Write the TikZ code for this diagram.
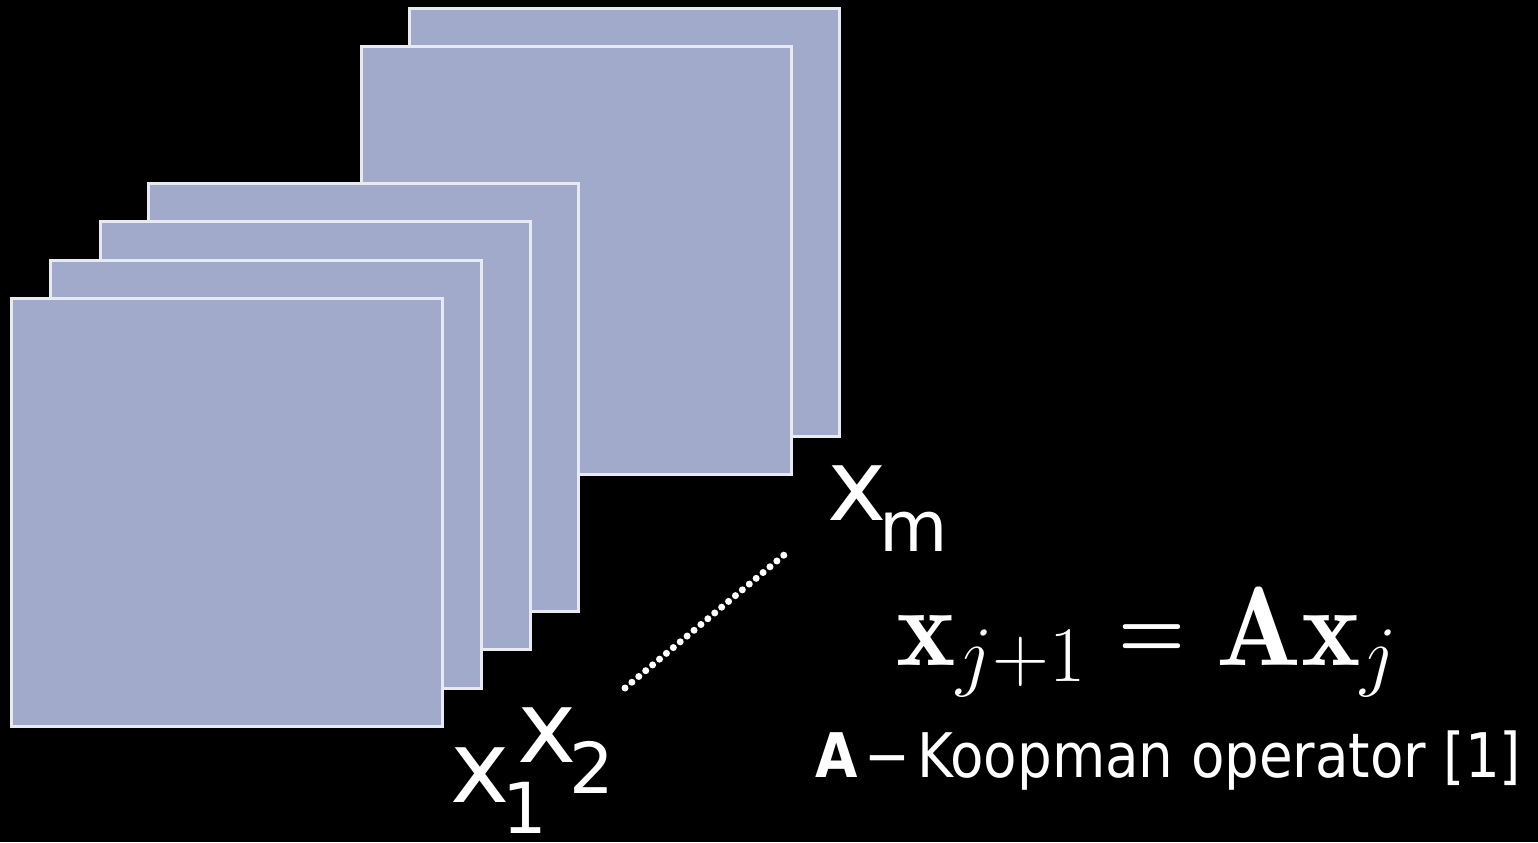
\RequirePackage{fix-cm}
\documentclass[tikz,border=0pt]{standalone}
\usepackage{amsmath}
\usepackage{graphicx}
\usepackage{fontspec}
\newfontfamily\labelfont{DejaVu Sans}

\definecolor{slate}{RGB}{161,170,202}
\definecolor{framewhite}{RGB}{232,234,242}

% x with a lowered, smaller index
\newcommand{\xsub}[1]{x\kern-0.07em\raisebox{-9pt}{\fontsize{20}{22}\selectfont #1}}
% short, heavy equals sign
\newcommand{\shorteq}{\mathrel{\raisebox{0.06em}{\scalebox{0.68}[0.78]{$\boldsymbol{=}$}}}}

\begin{document}
\begin{tikzpicture}[x=1cm, y=-1cm,
    frame/.style={draw=framewhite, fill=slate, line width=0.03cm,
      minimum width=4.3cm, minimum height=4.28cm, inner sep=0pt, outer sep=0pt,
      anchor=north west},
    lbl/.style={text=white, font=\labelfont\fontsize{28.5}{30}\selectfont,
      inner sep=0pt, anchor=base west}]
  % black backdrop, also fixes the page size
  \fill[black] (0,0) rectangle (15.38,8.42);
  \useasboundingbox (0,0) rectangle (15.38,8.42);

  % snapshots, drawn back to front
  \foreach \n/\px/\py in {6/4.09/0.08, 5/3.61/0.46, 4/1.48/1.83,
                          3/1.00/2.21, 2/0.51/2.60, 1/0.12/2.98}
    \node[frame] (snap\n) at (\px,\py) {};

  % snapshot labels
  \node[lbl] (x1) at (4.50,8.02) {\xsub{1}};
  \node[lbl] (x2) at (5.17,7.62) {\xsub{2}};
  \node[lbl] (xm) at (8.27,5.20) {\xsub{m}};

  % dots standing for the snapshots in between
  \coordinate (dotsA) at (6.25,6.88);
  \coordinate (dotsB) at (7.90,5.50);
  \draw[white, line width=0.07cm, line cap=round, dash pattern=on 0pt off 0.09cm]
    (dotsA) -- (dotsB);

  % linear evolution of the snapshots
  \node[anchor=base west, inner sep=0pt, text=white, font=\fontsize{32}{36}\selectfont]
    (eq) at (8.96,6.65)
    {$\mathbf{x}_{j+1} \shorteq \mathbf{A}\mathbf{x}_j$};
  \node[lbl, font=\labelfont\fontsize{17.5}{20}\selectfont]
    (note) at (8.15,7.77)
    {\scalebox{0.89}[1]{\textbf{A}\kern0.12em−\kern0.12em Koopman operator [1]}};
\end{tikzpicture}
\end{document}
